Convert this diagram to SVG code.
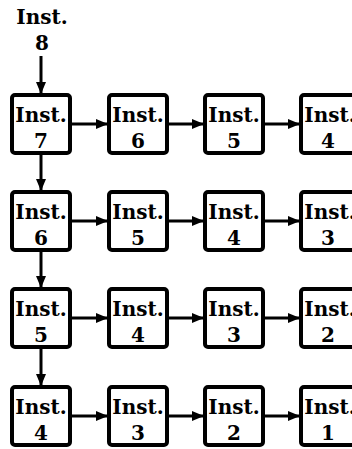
<svg xmlns="http://www.w3.org/2000/svg" width="352" height="449" viewBox="0 0 352 449">
  <style>
    .box { fill: #fff; stroke: #000; stroke-width: 4; }
    .lbl { font-family: "DejaVu Serif", "Liberation Serif", serif; font-weight: bold; font-size: 20px; fill: #000; text-anchor: middle; }
    .wire { stroke: #000; stroke-width: 3; fill: none; marker-end: url(#head); }
  </style>
  <defs>
    <marker id="head" markerUnits="userSpaceOnUse" markerWidth="12" markerHeight="10" refX="11" refY="5" orient="auto">
      <path d="M0,0 L12,5 L0,10 Z" fill="#000"/>
    </marker>
  </defs>

  <rect width="352" height="449" fill="#fff"/>

  <!-- incoming instruction -->
  <g id="inst8">
    <text class="lbl" x="42" y="24">Inst.</text>
    <text class="lbl" x="42" y="50">8</text>
  </g>

  <!-- connectors -->
  <g id="connectors">
    <line class="wire" x1="41" y1="56" x2="41" y2="93"/>
    <!-- row 1 -->
    <line class="wire" x1="72" y1="124" x2="107" y2="124"/>
    <line class="wire" x1="169" y1="124" x2="203" y2="124"/>
    <line class="wire" x1="265" y1="124" x2="299" y2="124"/>
    <!-- row 2 -->
    <line class="wire" x1="72" y1="221" x2="107" y2="221"/>
    <line class="wire" x1="169" y1="221" x2="203" y2="221"/>
    <line class="wire" x1="265" y1="221" x2="299" y2="221"/>
    <!-- row 3 -->
    <line class="wire" x1="72" y1="318" x2="107" y2="318"/>
    <line class="wire" x1="169" y1="318" x2="203" y2="318"/>
    <line class="wire" x1="265" y1="318" x2="299" y2="318"/>
    <!-- row 4 -->
    <line class="wire" x1="72" y1="416" x2="107" y2="416"/>
    <line class="wire" x1="169" y1="416" x2="203" y2="416"/>
    <line class="wire" x1="265" y1="416" x2="299" y2="416"/>
    <!-- column 1 downward -->
    <line class="wire" x1="41" y1="155" x2="41" y2="190"/>
    <line class="wire" x1="41" y1="252" x2="41" y2="287"/>
    <line class="wire" x1="41" y1="349" x2="41" y2="385"/>
  </g>

  <!-- row 1 -->
  <g id="r1c1"><rect class="box" x="12" y="95" width="58" height="58" rx="3"/><text class="lbl" x="41" y="122">Inst.</text><text class="lbl" x="41" y="148">7</text></g>
  <g id="r1c2"><rect class="box" x="109" y="95" width="58" height="58" rx="3"/><text class="lbl" x="138" y="122">Inst.</text><text class="lbl" x="138" y="148">6</text></g>
  <g id="r1c3"><rect class="box" x="205" y="95" width="58" height="58" rx="3"/><text class="lbl" x="234" y="122">Inst.</text><text class="lbl" x="234" y="148">5</text></g>
  <g id="r1c4"><rect class="box" x="301" y="95" width="58" height="58" rx="3"/><text class="lbl" x="330" y="122">Inst.</text><text class="lbl" x="328" y="148">4</text></g>

  <!-- row 2 -->
  <g id="r2c1"><rect class="box" x="12" y="192" width="58" height="58" rx="3"/><text class="lbl" x="41" y="219">Inst.</text><text class="lbl" x="41" y="245">6</text></g>
  <g id="r2c2"><rect class="box" x="109" y="192" width="58" height="58" rx="3"/><text class="lbl" x="138" y="219">Inst.</text><text class="lbl" x="138" y="245">5</text></g>
  <g id="r2c3"><rect class="box" x="205" y="192" width="58" height="58" rx="3"/><text class="lbl" x="234" y="219">Inst.</text><text class="lbl" x="234" y="245">4</text></g>
  <g id="r2c4"><rect class="box" x="301" y="192" width="58" height="58" rx="3"/><text class="lbl" x="330" y="219">Inst.</text><text class="lbl" x="328" y="245">3</text></g>

  <!-- row 3 -->
  <g id="r3c1"><rect class="box" x="12" y="289" width="58" height="58" rx="3"/><text class="lbl" x="41" y="316">Inst.</text><text class="lbl" x="41" y="342">5</text></g>
  <g id="r3c2"><rect class="box" x="109" y="289" width="58" height="58" rx="3"/><text class="lbl" x="138" y="316">Inst.</text><text class="lbl" x="138" y="342">4</text></g>
  <g id="r3c3"><rect class="box" x="205" y="289" width="58" height="58" rx="3"/><text class="lbl" x="234" y="316">Inst.</text><text class="lbl" x="234" y="342">3</text></g>
  <g id="r3c4"><rect class="box" x="301" y="289" width="58" height="58" rx="3"/><text class="lbl" x="330" y="316">Inst.</text><text class="lbl" x="328" y="342">2</text></g>

  <!-- row 4 -->
  <g id="r4c1"><rect class="box" x="12" y="387" width="58" height="58" rx="3"/><text class="lbl" x="41" y="414">Inst.</text><text class="lbl" x="41" y="440">4</text></g>
  <g id="r4c2"><rect class="box" x="109" y="387" width="58" height="58" rx="3"/><text class="lbl" x="138" y="414">Inst.</text><text class="lbl" x="138" y="440">3</text></g>
  <g id="r4c3"><rect class="box" x="205" y="387" width="58" height="58" rx="3"/><text class="lbl" x="234" y="414">Inst.</text><text class="lbl" x="234" y="440">2</text></g>
  <g id="r4c4"><rect class="box" x="301" y="387" width="58" height="58" rx="3"/><text class="lbl" x="330" y="414">Inst.</text><text class="lbl" x="328" y="440">1</text></g>
</svg>
